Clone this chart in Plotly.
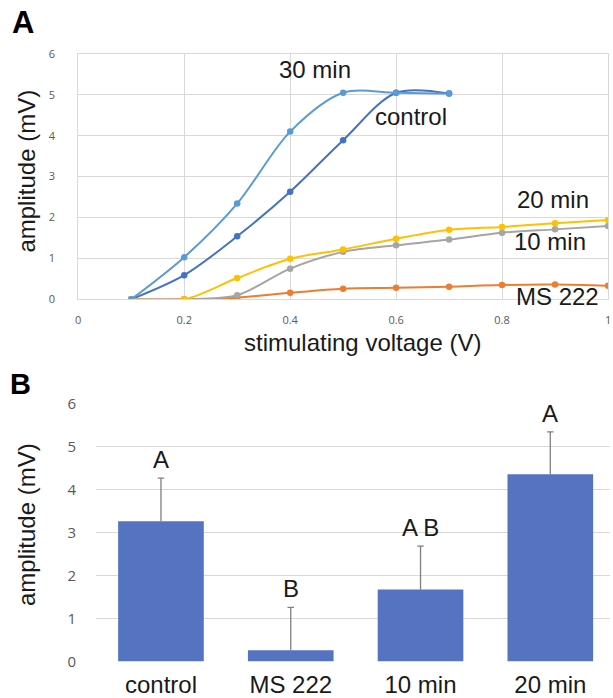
import plotly.graph_objects as go

# ---------------- Panel A data ----------------
voltage = [0.1, 0.2, 0.3, 0.4, 0.5, 0.6, 0.7, 0.8, 0.9, 1.0]
control_a = [0, 0.59, 1.54, 2.63, 3.89, 5.05, 5.03]
ms222_a = [0, 0, 0.04, 0.16, 0.26, 0.28, 0.31, 0.35, 0.36, 0.33]
min10_a = [0, 0, 0.10, 0.75, 1.16, 1.32, 1.46, 1.63, 1.71, 1.79]
min20_a = [0, 0, 0.52, 0.99, 1.22, 1.48, 1.70, 1.77, 1.86, 1.94]
min30_a = [0, 1.03, 2.34, 4.10, 5.05, 5.05, 5.03]

x_ticks_a = [0, 0.2, 0.4, 0.6, 0.8, 1]
x_tick_labels_a = ["0", "0.2", "0.4", "0.6", "0.8", "1"]
y_ticks = [0, 1, 2, 3, 4, 5, 6]

# ---------------- Panel B data ----------------
groups = ["control", "MS 222", "10 min", "20 min"]
means_b = [3.27, 0.26, 1.68, 4.36]
errors_b = [1.00, 1.00, 1.01, 0.99]
letters_b = ["A", "B", "A B", "A"]

W, H = 613, 698
TEXT_FONT = "Liberation Sans, Arial, sans-serif"
TICK_FONT = "Open Sans, Liberation Sans, sans-serif"

fig = go.Figure()

series = [
    ("control", control_a, "#4472C4"),
    ("MS 222", ms222_a, "#ED7D31"),
    ("10 min", min10_a, "#A5A5A5"),
    ("20 min", min20_a, "#FFC000"),
    ("30 min", min30_a, "#5B9BD5"),
]
for name, vals, col in series:
    fig.add_trace(go.Scatter(
        x=voltage[:len(vals)], y=vals, name=name, mode="lines+markers",
        line=dict(color=col, width=2, shape="spline", smoothing=0.9),
        marker=dict(color=col, size=6.5),
        xaxis="x", yaxis="y", showlegend=False,
    ))

gx = list(range(len(groups)))
fig.add_trace(go.Bar(
    x=gx, y=means_b, marker=dict(color="#5573C0", line=dict(width=0)),
    width=0.66, xaxis="x2", yaxis="y2", showlegend=False,
))

# error bars (upper only, cap at the top only)
ex, ey = [], []
cap = 0.025
for i, m, e in zip(gx, means_b, errors_b):
    ex += [i, i, None, i - cap, i + cap, None]
    ey += [m, m + e, None, m + e, m + e, None]
fig.add_trace(go.Scatter(
    x=ex, y=ey, mode="lines", line=dict(color="#7F7F7F", width=1.3),
    xaxis="x2", yaxis="y2", showlegend=False, hoverinfo="skip",
))

grid = "#D9D9D9"
tick_col = "#595959"

fig.update_layout(
    width=W, height=H, autosize=False,
    margin=dict(l=0, r=0, t=0, b=0),
    paper_bgcolor="white", plot_bgcolor="white",
    xaxis=dict(
        domain=[76 / W, 611 / W], range=[0, 1],
        tickvals=x_ticks_a, ticktext=x_tick_labels_a,
        showgrid=True, gridcolor=grid, gridwidth=1,
        zeroline=False, showline=True, linecolor=grid, linewidth=1, mirror=True,
        ticks="",
        ticklabelstandoff=10, ticklabeloverflow="allow",
        tickfont=dict(family=TICK_FONT, size=11, color=tick_col),
        anchor="y",
    ),
    yaxis=dict(
        domain=[1 - 297.7 / H, 1 - 44.3 / H], range=[0, 6],
        tickvals=y_ticks,
        showgrid=True, gridcolor=grid, gridwidth=1,
        zeroline=False, showline=True, linecolor=grid, linewidth=1, mirror=True,
        ticks="",
        ticklabelstandoff=20,
        tickfont=dict(family=TICK_FONT, size=11, color=tick_col),
        anchor="x",
    ),
    xaxis2=dict(
        domain=[94 / W, 1], range=[-0.5, 3.46],
        tickvals=gx, ticktext=groups,
        showgrid=False, zeroline=False, showline=False, ticks="",
        ticklabelstandoff=6,
        tickfont=dict(family=TEXT_FONT, size=24, color="#1a1a1a"),
        anchor="y2",
    ),
    yaxis2=dict(
        domain=[1 - 671.7 / H, 1 - 405.7 / H], range=[0, 6],
        tickvals=y_ticks,
        showgrid=True, gridcolor=grid, gridwidth=1,
        zeroline=False, showline=False, ticks="",
        ticklabelstandoff=19,
        tickfont=dict(family=TICK_FONT, size=15, color=tick_col),
        anchor="x2",
    ),
)

annos = []
# panel letters
annos.append(dict(text="<b>A</b>", x=7 / W, y=1 - 12 / H, xref="paper", yref="paper",
                  xanchor="left", yanchor="middle", showarrow=False,
                  font=dict(family=TEXT_FONT, size=31, color="black")))
annos.append(dict(text="<b>B</b>", x=5 / W, y=1 - 385 / H, xref="paper", yref="paper",
                  xanchor="left", yanchor="middle", showarrow=False,
                  font=dict(family=TEXT_FONT, size=29, color="black")))
# x title (panel A)
annos.append(dict(text="stimulating voltage (V)", x=363 / W, y=1 - 342 / H,
                  xref="paper", yref="paper", xanchor="center", yanchor="middle",
                  showarrow=False, font=dict(family=TEXT_FONT, size=24, color="#1a1a1a")))
# y titles
for yc in [165, 530]:
    annos.append(dict(text="amplitude (mV)", x=24 / W, y=1 - yc / H, xref="paper", yref="paper",
                      xanchor="center", yanchor="middle", textangle=-90, showarrow=False,
                      font=dict(family=TEXT_FONT, size=24, color="#1a1a1a")))
# series labels (panel A), positions in pixels of the figure
series_labels = [("30 min", 315, 60), ("control", 412, 109), ("20 min", 555, 195),
                 ("10 min", 552, 238), ("MS 222", 560, 295)]
for txt, px, py in series_labels:
    annos.append(dict(text=txt, x=px / W, y=1 - py / H, xref="paper", yref="paper",
                      showarrow=False, xanchor="center", yanchor="middle",
                      font=dict(family=TEXT_FONT, size=24, color="#1a1a1a")))
# significance letters (panel B)
for i, m, e, l in zip(gx, means_b, errors_b, letters_b):
    annos.append(dict(text=l, x=i, y=m + e, xref="x2", yref="y2", showarrow=False,
                      xanchor="center", yanchor="bottom", yshift=3,
                      font=dict(family=TEXT_FONT, size=24, color="#1a1a1a")))
fig.update_layout(annotations=annos)

fig.write_html("out.html")
